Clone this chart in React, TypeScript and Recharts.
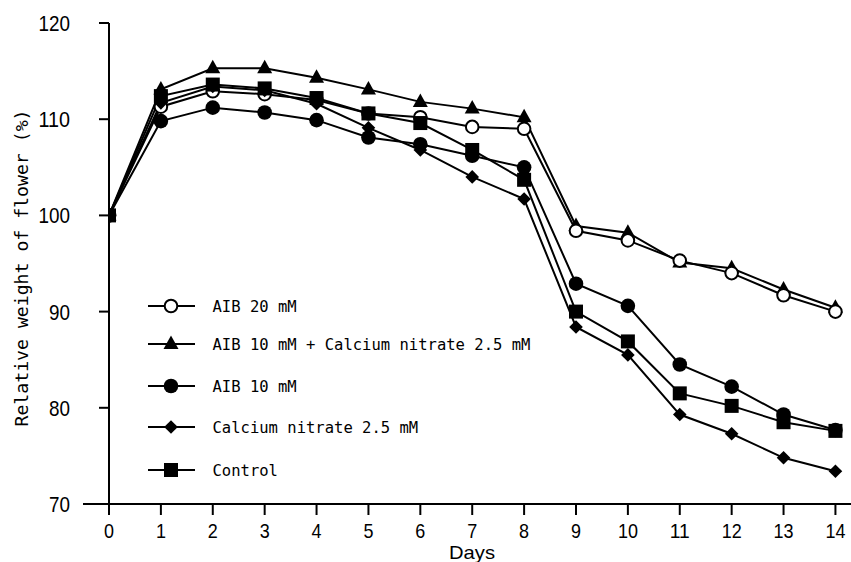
import React from 'react';
import { LineChart, Line, XAxis, YAxis, Legend } from 'recharts';

const days = [0, 1, 2, 3, 4, 5, 6, 7, 8, 9, 10, 11, 12, 13, 14];
const aib20 = [100, 111.3, 112.9, 112.6, 112.0, 110.6, 110.2, 109.2, 109.0, 98.4, 97.4, 95.3, 94.0, 91.7, 90.0];
const aibCalcium = [100, 113.1, 115.3, 115.3, 114.3, 113.1, 111.8, 111.1, 110.2, 98.9, 98.2, 95.1, 94.5, 92.3, 90.4];
const aib10 = [100, 109.8, 111.2, 110.7, 109.9, 108.1, 107.4, 106.2, 105.0, 92.9, 90.6, 84.5, 82.2, 79.3, 77.7];
const calcium = [100, 111.7, 113.4, 113.0, 111.6, 109.1, 106.8, 104.0, 101.7, 88.4, 85.5, 79.3, 77.3, 74.8, 73.4];
const control = [100, 112.4, 113.6, 113.2, 112.2, 110.6, 109.6, 106.8, 103.7, 90.0, 86.9, 81.5, 80.2, 78.5, 77.6];

const yTicks = [70, 80, 90, 100, 110, 120];
const xTicks = days;

const seriesKeys = ['aibCalcium', 'aib20', 'aib10', 'calcium', 'control'];
const seriesNames = ['AIB 10 mM + Calcium nitrate 2.5 mM', 'AIB 20 mM', 'AIB 10 mM', 'Calcium nitrate 2.5 mM', 'Control'];
const seriesShapes = ['triangle', 'openCircle', 'circle', 'diamond', 'square'];

const legendOrder = ['aib20', 'aibCalcium', 'aib10', 'calcium', 'control'];

const data = days.map((d, i) => ({
  day: d,
  aib20: aib20[i],
  aibCalcium: aibCalcium[i],
  aib10: aib10[i],
  calcium: calcium[i],
  control: control[i],
}));

function Marker({ shape, cx, cy }: { shape: string; cx: number; cy: number }) {
  switch (shape) {
    case 'openCircle':
      return <circle cx={cx} cy={cy} r={6.3} fill="#fff" stroke="#000" strokeWidth={2} />;
    case 'triangle':
      return (
        <polygon
          points={`${cx},${cy - 8.5} ${cx - 7.5},${cy + 5} ${cx + 7.5},${cy + 5}`}
          fill="#000"
        />
      );
    case 'circle':
      return <circle cx={cx} cy={cy} r={7.3} fill="#000" />;
    case 'diamond':
      return (
        <polygon
          points={`${cx},${cy - 6.8} ${cx + 6.8},${cy} ${cx},${cy + 6.8} ${cx - 6.8},${cy}`}
          fill="#000"
        />
      );
    case 'square':
    default:
      return <rect x={cx - 7} y={cy - 7} width={14} height={14} fill="#000" />;
  }
}

const tickFont = '"Liberation Sans", Arial, sans-serif';
const monoFont = '"DejaVu Sans Mono", monospace';

const YTick = (props: any) => {
  const { x, y, payload } = props;
  const s = String(payload.value);
  return (
    <g>
      {payload.value === 70 ? (
        <line x1={x - 16} y1={y} x2={x} y2={y} stroke="#000" strokeWidth={2} />
      ) : null}
      <text
        x={x - 29}
        y={y + 8}
        textAnchor="end"
        fontFamily={tickFont}
        fontSize={22}
        fill="#000"
        textLength={s.length * 10.5}
        lengthAdjust="spacingAndGlyphs"
      >
        {s}
      </text>
    </g>
  );
};

const XTick = (props: any) => {
  const { x, y, payload } = props;
  const s = String(payload.value);
  return (
    <text
      x={x}
      y={y + 23}
      textAnchor="middle"
      fontFamily={tickFont}
      fontSize={21}
      fill="#000"
      textLength={s.length * 10}
      lengthAdjust="spacingAndGlyphs"
    >
      {s}
    </text>
  );
};

const XLabel = () => (
  <text
    x={472}
    y={559}
    textAnchor="middle"
    fontFamily={tickFont}
    fontSize={19}
    fill="#000"
    textLength={46}
    lengthAdjust="spacingAndGlyphs"
  >
    Days
  </text>
);

const YLabel = () => (
  <text
    x={28}
    y={268}
    transform="rotate(-90 28 268)"
    textAnchor="middle"
    fontFamily={monoFont}
    fontSize={18}
    fill="#000"
    stroke="none"
    textLength={317}
    lengthAdjust="spacingAndGlyphs"
  >
    Relative weight of flower (%)
  </text>
);

const legendRowY = [20, 58, 100, 141, 184];

const LegendContent = () => (
  <svg width={420} height={210} style={{ display: 'block' }}>
    {legendOrder.map((key, i) => {
      const idx = seriesKeys.indexOf(key);
      const y = legendRowY[i];
      return (
        <g key={key}>
          <line x1={8} y1={y} x2={55} y2={y} stroke="#000" strokeWidth={2} />
          <Marker shape={seriesShapes[idx]} cx={31} cy={y} />
          <text
            x={72.5}
            y={y + 5.5}
            fontFamily={monoFont}
            fontSize={15.5}
            fill="#000"
            textLength={seriesNames[idx].length * 9.35}
            lengthAdjust="spacingAndGlyphs"
          >
            {seriesNames[idx]}
          </text>
        </g>
      );
    })}
  </svg>
);

export default function App() {
  return (
    <div style={{ position: 'absolute', left: 0, top: 0, width: 851, height: 562, background: '#fff' }}>
      <LineChart
        width={851}
        height={562}
        data={data}
        margin={{ top: 23, right: 0, bottom: 0, left: 0 }}
      >
        <XAxis
          dataKey="day"
          type="number"
          domain={[0, 14.3]}
          ticks={xTicks}
          allowDataOverflow
          height={58}
          tickSize={11}
          tickMargin={0}
          axisLine={{ stroke: '#000', strokeWidth: 2 }}
          tickLine={{ stroke: '#000', strokeWidth: 2 }}
          tick={<XTick />}
          interval={0}
          label={<XLabel />}
        />
        <YAxis
          type="number"
          domain={[70, 120]}
          ticks={yTicks}
          allowDataOverflow
          width={109}
          tickSize={10}
          tickMargin={0}
          axisLine={{ stroke: '#000', strokeWidth: 2 }}
          tickLine={{ stroke: '#000', strokeWidth: 2 }}
          tick={<YTick />}
          interval={0}
          label={<YLabel />}
        />
        <Legend
          layout="horizontal"
          verticalAlign="middle"
          align="center"
          content={<LegendContent />}
          wrapperStyle={{ position: 'absolute', left: 140, top: 286, width: 420, height: 210 }}
        />
        {seriesKeys.map((key, idx) => (
          <Line
            key={key}
            dataKey={key}
            name={seriesNames[idx]}
            type="linear"
            stroke="#000"
            strokeWidth={2}
            isAnimationActive={false}
            activeDot={false}
            dot={(p: any) => (
              <Marker key={`${key}-${p.index}`} shape={seriesShapes[idx]} cx={p.cx} cy={p.cy} />
            )}
          />
        ))}
      </LineChart>
    </div>
  );
}
